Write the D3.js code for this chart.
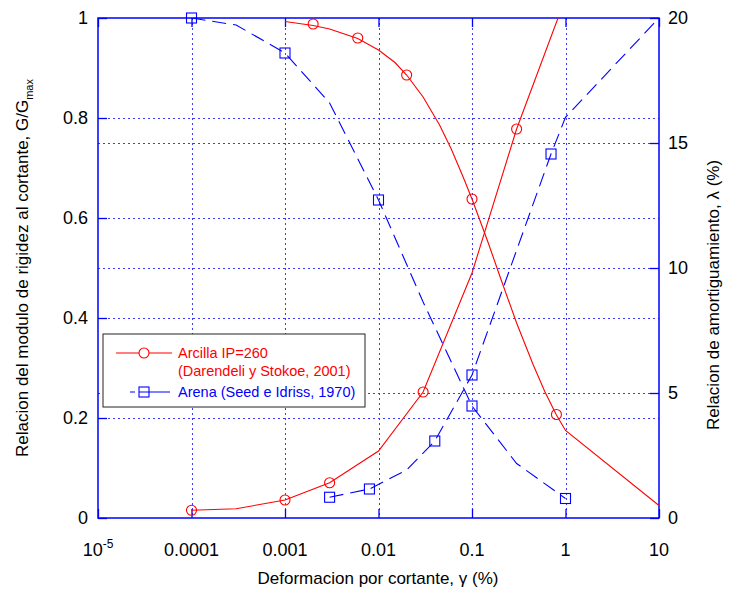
<!DOCTYPE html>
<html><head><meta charset="utf-8">
<script src="https://cdn.jsdelivr.net/npm/d3@7"></script>
<style>body{margin:0;background:#fff}svg{display:block}text{font-family:"Liberation Sans",Arial,sans-serif}</style>
</head><body>
<svg id="c" width="731" height="590"></svg>
<script>
// ---- data ----
const xTicks = [1e-5, 1e-4, 1e-3, 1e-2, 1e-1, 1, 10];
const xTickLabels = ["10", "0.0001", "0.001", "0.01", "0.1", "1", "10"];
const yLeftTicks = [0, 0.2, 0.4, 0.6, 0.8, 1];
const yLeftLabels = ["0", "0.2", "0.4", "0.6", "0.8", "1"];
const yRightTicks = [0, 5, 10, 15, 20];
const yRightLabels = ["0", "5", "10", "15", "20"];

// Arcilla IP=260 (Darendeli y Stokoe, 2001)
const clayGStrain = [0.001, 0.002, 0.003, 0.006, 0.01, 0.015, 0.02, 0.03, 0.045, 0.06, 0.08, 0.1, 0.15, 0.2, 0.3, 0.45, 0.6, 0.8, 1, 10];
const clayG = [0.993, 0.985, 0.978, 0.959, 0.936, 0.911, 0.886, 0.842, 0.786, 0.738, 0.683, 0.638, 0.549, 0.482, 0.390, 0.307, 0.253, 0.206, 0.175, 0.025];
const clayGMarkStrain = [0.002, 0.006, 0.02, 0.1, 0.8];
const clayGMark = [0.988, 0.96, 0.886, 0.638, 0.207];
const clayDStrain = [0.0001, 0.0003, 0.001, 0.003, 0.01, 0.03, 0.1, 0.3, 1];
const clayD = [0.31, 0.37, 0.72, 1.41, 2.68, 5.04, 9.8, 15.56, 20.8];
const clayDMarkStrain = [0.0001, 0.001, 0.003, 0.03, 0.3];
const clayDMark = [0.31, 0.72, 1.41, 5.04, 15.56];

// Arena (Seed e Idriss, 1970)
const sandGStrain = [0.0001, 0.0003, 0.001, 0.003, 0.01, 0.03, 0.1, 0.3, 1];
const sandG = [1.0, 0.986, 0.93, 0.83, 0.636, 0.432, 0.224, 0.109, 0.039];
const sandGMarkStrain = [0.0001, 0.001, 0.01, 0.1, 1];
const sandGMark = [1.0, 0.93, 0.636, 0.224, 0.039];
const sandDStrain = [0.003, 0.008, 0.02, 0.04, 0.1, 0.7, 1, 10];
const sandD = [0.83, 1.16, 1.92, 3.08, 5.72, 14.56, 16.03, 20];
const sandDMarkStrain = [0.003, 0.008, 0.04, 0.1, 0.7];
const sandDMark = [0.83, 1.16, 3.08, 5.72, 14.56];

const gridLeft = [0.2, 0.4, 0.6, 0.8];
const gridRight = [5, 10, 15];

// ---- layout ----
const L = 98, R = 659, T = 18, B = 518;
const RED = "#ff0000", BLUE = "#0000ff", GRID = "#3b3bff";
const svg = d3.select("#c");
const x = d3.scaleLog().domain([1e-5, 10]).range([L, R]);
const yL = d3.scaleLinear().domain([0, 1]).range([B, T]);
const yR = d3.scaleLinear().domain([0, 20]).range([B, T]);

svg.append("defs").append("clipPath").attr("id", "clip")
  .append("rect").attr("x", L).attr("y", T).attr("width", R - L).attr("height", B - T);

// grid
const gv = svg.append("g").attr("stroke", GRID).attr("stroke-width", 1).attr("stroke-dasharray", "2,3").attr("shape-rendering", "crispEdges");
gv.selectAll("line").data(xTicks.slice(1, -1)).join("line")
  .attr("x1", d => Math.round(x(d)) + 0.5).attr("x2", d => Math.round(x(d)) + 0.5).attr("y1", T).attr("y2", B);
const gh1 = svg.append("g").attr("stroke", GRID).attr("stroke-width", 1).attr("stroke-dasharray", "2,3").attr("shape-rendering", "crispEdges");
gh1.selectAll("line").data(gridLeft).join("line")
  .attr("x1", L).attr("x2", R).attr("y1", d => Math.round(yL(d)) + 0.5).attr("y2", d => Math.round(yL(d)) + 0.5);
const gh2 = svg.append("g").attr("stroke", GRID).attr("stroke-width", 1).attr("stroke-dasharray", "2,3").attr("shape-rendering", "crispEdges");
gh2.selectAll("line").data(gridRight).join("line")
  .attr("x1", L).attr("x2", R).attr("y1", d => Math.round(yR(d)) + 0.5).attr("y2", d => Math.round(yR(d)) + 0.5);

// axes (ticks inward)
const tk = 9;
const axB = d3.axisBottom(x).tickValues(xTicks).tickSize(-tk).tickFormat("");
const axT = d3.axisTop(x).tickValues(xTicks).tickSize(-tk).tickFormat("");
const axLf = d3.axisLeft(yL).tickValues(yLeftTicks).tickSize(-tk).tickFormat("");
const axRt = d3.axisRight(yR).tickValues(yRightTicks).tickSize(-tk).tickFormat("");
function style(sel) { sel.selectAll("path,line").attr("stroke", BLUE).attr("stroke-width", 1.3); sel.select(".domain").remove(); }
svg.append("g").attr("transform", `translate(0,${B})`).call(axB).call(style);
svg.append("g").attr("transform", `translate(0,${T})`).call(axT).call(style);
svg.append("g").attr("transform", `translate(${L},0)`).call(axLf).call(style);
svg.append("g").attr("transform", `translate(${R},0)`).call(axRt).call(style);
svg.append("rect").attr("x", L).attr("y", T).attr("width", R - L).attr("height", B - T)
  .attr("fill", "none").attr("stroke", BLUE).attr("stroke-width", 1.5);

// tick labels
const fs = 18;
const xl = svg.append("g").attr("font-size", fs).attr("fill", "#000").attr("text-anchor", "middle");
xTicks.forEach((d, i) => {
  const t = xl.append("text").attr("x", x(d)).attr("y", 556).text(xTickLabels[i]);
  if (i === 0) t.append("tspan").attr("font-size", 12).attr("dy", -8).text("-5");
});
const yl = svg.append("g").attr("font-size", fs).attr("fill", "#000").attr("text-anchor", "end");
yLeftTicks.forEach((d, i) => yl.append("text").attr("x", 88).attr("y", yL(d) + 6).text(yLeftLabels[i]));
const yr = svg.append("g").attr("font-size", fs).attr("fill", "#000").attr("text-anchor", "start");
yRightTicks.forEach((d, i) => yr.append("text").attr("x", 668).attr("y", yR(d) + 6).text(yRightLabels[i]));

// axis titles
svg.append("text").attr("x", 378).attr("y", 584).attr("text-anchor", "middle").attr("font-size", 17)
  .text("Deformacion por cortante, γ (%)");
const lt = svg.append("text").attr("transform", "translate(28,268) rotate(-90)").attr("text-anchor", "middle").attr("font-size", 17)
  .text("Relacion del modulo de rigidez al cortante, G/G");
lt.append("tspan").attr("font-size", 11).attr("dy", 5).text("max");
svg.append("text").attr("transform", "translate(719,295) rotate(-90)").attr("text-anchor", "middle").attr("font-size", 17)
  .text("Relacion de amortiguamiento, λ (%)");

// series
const plot = svg.append("g").attr("clip-path", "url(#clip)");
function series(xs, ys, yScale, color, dash) {
  const pts = xs.map((s, i) => [x(s), yScale(ys[i])]);
  plot.append("path").attr("d", d3.line()(pts)).attr("fill", "none").attr("stroke", color)
    .attr("stroke-width", 1.1).attr("stroke-dasharray", dash || null);
}
function circles(xs, ys, yScale) {
  svg.append("g").selectAll("circle").data(xs).join("circle")
    .attr("cx", d => x(d)).attr("cy", (d, i) => yScale(ys[i])).attr("r", 5)
    .attr("fill", "none").attr("stroke", RED).attr("stroke-width", 1.1);
}
function squares(xs, ys, yScale) {
  svg.append("g").selectAll("rect").data(xs).join("rect")
    .attr("x", d => x(d) - 5).attr("y", (d, i) => yScale(ys[i]) - 5).attr("width", 10).attr("height", 10)
    .attr("fill", "none").attr("stroke", BLUE).attr("stroke-width", 1.1);
}
series(clayGStrain, clayG, yL, RED);
series(clayDStrain, clayD, yR, RED);
series(sandGStrain, sandG, yL, BLUE, "14,7");
series(sandDStrain, sandD, yR, BLUE, "14,7");
circles(clayGMarkStrain, clayGMark, yL);
circles(clayDMarkStrain, clayDMark, yR);
squares(sandGMarkStrain, sandGMark, yL);
squares(sandDMarkStrain, sandDMark, yR);

// legend
const lg = svg.append("g");
lg.append("rect").attr("x", 103).attr("y", 334).attr("width", 262).attr("height", 73)
  .attr("fill", "#fff").attr("stroke", "#222").attr("stroke-width", 1);
lg.append("line").attr("x1", 116).attr("x2", 172).attr("y1", 353).attr("y2", 353).attr("stroke", RED).attr("stroke-width", 1.1);
lg.append("circle").attr("cx", 144).attr("cy", 353).attr("r", 5).attr("fill", "#fff").attr("stroke", RED).attr("stroke-width", 1.1);
lg.append("line").attr("x1", 130).attr("x2", 170).attr("y1", 392).attr("y2", 392).attr("stroke", BLUE).attr("stroke-width", 1.1).attr("stroke-dasharray", "5,4,100");
lg.append("rect").attr("x", 139).attr("y", 387).attr("width", 10).attr("height", 10).attr("fill", "none").attr("stroke", BLUE).attr("stroke-width", 1.1);
const lf = 14.5;
lg.append("text").attr("x", 178).attr("y", 358).attr("font-size", lf).attr("fill", RED).text("Arcilla IP=260");
lg.append("text").attr("x", 178).attr("y", 376).attr("font-size", lf).attr("fill", RED).text("(Darendeli y Stokoe, 2001)");
lg.append("text").attr("x", 178).attr("y", 397).attr("font-size", lf).attr("fill", BLUE).text("Arena (Seed e Idriss, 1970)");
</script>
</body></html>
